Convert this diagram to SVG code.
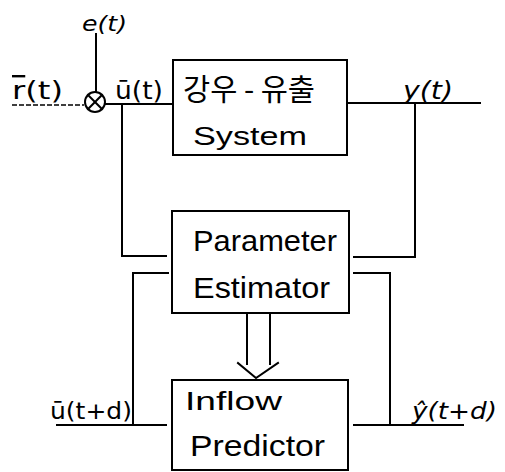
<svg xmlns="http://www.w3.org/2000/svg" width="505" height="472" viewBox="0 0 505 472">
<style>
.ln{stroke:#000;stroke-width:2;fill:none;stroke-linecap:square}
.dash{stroke:#000;stroke-width:1.6;fill:none;stroke-dasharray:5 2}
.box{stroke:#000;stroke-width:2;fill:#fff}
.t{font-family:"DejaVu Sans","Liberation Sans",sans-serif;fill:#000}
.b{font-family:"Liberation Sans","DejaVu Sans",sans-serif;fill:#000}
.k{font-family:"Noto Sans CJK KR",sans-serif;fill:#000}
</style>
<rect width="505" height="472" fill="#fff"/>
<g id="connectors">
<line class="ln" x1="96" y1="34" x2="96" y2="92"/>
<line class="dash" x1="12" y1="105" x2="84" y2="105"/>
<line class="ln" x1="106" y1="104" x2="173" y2="104"/>
<polyline class="ln" points="122,104 122,256 166,256"/>
<line class="ln" x1="347" y1="103" x2="480" y2="103"/>
<polyline class="ln" points="415,103 415,257 354,257"/>
<polyline class="ln" points="168,273 133,273 133,425"/>
<line class="ln" x1="57" y1="425" x2="166" y2="425"/>
<polyline class="ln" points="354,273 390,273 390,425"/>
<line class="ln" x1="354" y1="425" x2="463" y2="425"/>
<line class="ln" x1="247" y1="313" x2="247" y2="364"/>
<line class="ln" x1="270" y1="313" x2="270" y2="364"/>
<polyline class="ln" points="238,363 256,378 278,363"/>
<text class="t" x="82" y="31" font-size="22" font-style="italic" textLength="45" lengthAdjust="spacingAndGlyphs">e(t)</text>
<text class="t" x="12" y="99" font-size="24" textLength="51" lengthAdjust="spacingAndGlyphs"><tspan text-decoration="overline">r</tspan>(t)</text>
<text class="t" x="115" y="99" font-size="24" textLength="48" lengthAdjust="spacingAndGlyphs">ū(t)</text>
<text class="t" x="403" y="99" font-size="24" font-style="italic" textLength="50" lengthAdjust="spacingAndGlyphs">y(t)</text>
<text class="t" x="50" y="419" font-size="23" textLength="82" lengthAdjust="spacingAndGlyphs">ū(t+d)</text>
<text class="t" x="412" y="419" font-size="23" textLength="85" lengthAdjust="spacingAndGlyphs" font-style="italic">ŷ(t+d)</text>
</g>
<g id="sum">
<circle cx="95" cy="102" r="10" class="box"/>
<line class="ln" x1="88" y1="95" x2="102" y2="109" stroke-width="1.8"/>
<line class="ln" x1="102" y1="95" x2="88" y2="109" stroke-width="1.8"/>
</g>
<g id="system">
<rect class="box" x="173" y="60" width="174" height="95"/>
<text class="k" x="183" y="100" font-size="30" textLength="132" lengthAdjust="spacingAndGlyphs">강우 - 유출</text>
<text class="b" x="193" y="145" font-size="26" textLength="114" lengthAdjust="spacingAndGlyphs">System</text>
</g>
<g id="estimator">
<rect class="box" x="172" y="211" width="177" height="102"/>
<text class="b" x="193" y="251" font-size="30" textLength="144" lengthAdjust="spacingAndGlyphs">Parameter</text>
<text class="b" x="193" y="298" font-size="30" textLength="137" lengthAdjust="spacingAndGlyphs">Estimator</text>
</g>
<g id="predictor">
<rect class="box" x="172" y="380" width="176" height="90"/>
<text class="b" x="185" y="410" font-size="26" textLength="97" lengthAdjust="spacingAndGlyphs">Inflow</text>
<text class="b" x="190" y="456" font-size="30" textLength="135" lengthAdjust="spacingAndGlyphs">Predictor</text>
</g>
</svg>
